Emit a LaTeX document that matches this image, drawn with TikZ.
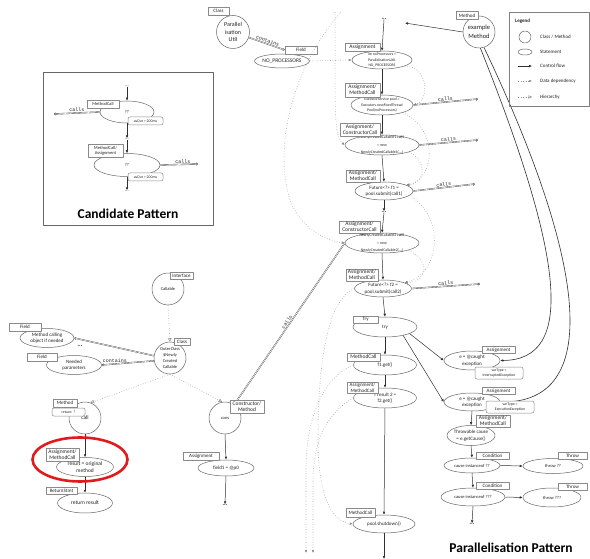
\documentclass[tikz,border=0pt]{standalone}
\usepackage{fontspec}
\setmainfont{Carlito}
\newfontfamily\lblfont{Liberation Mono}
\usetikzlibrary{arrows.meta,shapes.geometric}

\definecolor{boxc}{HTML}{8A8A8A}
\definecolor{elc}{HTML}{666666}
\definecolor{linec}{HTML}{303030}
\definecolor{relc}{HTML}{4A4A4A}
\definecolor{dotc}{HTML}{8F8F8F}
\definecolor{txtc}{HTML}{222222}
\definecolor{redc}{HTML}{E3191C}

% statement: an ellipse of fixed size with its text laid over it
\newcommand\stmtnode[6]{%
  \node[stm,minimum width=#3,minimum height=#4] (#1) at (#2) {};
  \node[stt,#5] (#1t) at (#1) {#6};}

\tikzset{
  f38/.style={font=\fontsize{3.8}{5.2}\selectfont},
  f4w/.style={font=\fontsize{3.9}{7.2}\selectfont},
  f45/.style={font=\fontsize{4.5}{5.8}\selectfont},
  f5/.style={font=\fontsize{5}{6.6}\selectfont},
  f55/.style={font=\fontsize{5.5}{6.6}\selectfont},
  tbox/.style={draw=boxc, line width=0.5pt, fill=white, inner sep=0.3pt, align=center,
    text=txtc, font=\fontsize{5.5}{6}\selectfont},
  sbox/.style={tbox, font=\fontsize{4.5}{5.2}\selectfont},
  cbox/.style={draw=boxc, line width=0.5pt, fill=white, rounded corners=2pt, inner sep=0.3pt,
    align=center, text=txtc, font=\fontsize{3.8}{4.6}\selectfont},
  stm/.style={ellipse, draw=elc, line width=0.5pt, inner sep=0pt},
  stt/.style={inner sep=0pt, align=center, text=txtc},
  ent/.style={circle, draw=elc, line width=0.5pt, inner sep=0pt, align=center, text=txtc},
  cf/.style={draw=linec, line width=0.5pt, -{Latex[length=3pt,width=2.6pt]}},
  cfb/.style={cf, line width=0.6pt},
  dd/.style={draw=dotc, dotted, line width=0.55pt, -{Latex[length=3pt,width=2.6pt,fill=linec]}},
  hier/.style={draw=dotc, dotted, line width=0.55pt, -{Triangle[open,length=3.5pt,width=3.6pt,fill=white]}},
  rel/.style={draw=relc, double=white, double distance=0.55pt, line width=0.38pt, -{Implies}},
  lbl/.style={font=\lblfont\fontsize{5}{5}\selectfont, text=txtc, inner sep=1pt},
  dots/.style={inner sep=0pt, text=txtc, font=\bfseries\fontsize{6}{6}\selectfont},
  frame/.style={draw=gray!80!black, line width=1pt},
  title/.style={text=black, font=\bfseries\fontsize{13.5}{15}\selectfont},
  legt/.style={anchor=west, inner sep=0pt, text=txtc, font=\fontsize{5}{5}\selectfont}
}

\begin{document}
\begin{tikzpicture}[x=1pt,y=-1pt,line join=round]
\fill[white] (0,0) rectangle (590,559);
\useasboundingbox (0,0) rectangle (590,559);

% ---------------- candidate pattern ----------------
\draw[frame] (43,73) rectangle (213,226);
\node[dots, font=\fontsize{5}{5}\selectfont] (cd1) at (127,86) {...};
\stmtnode{ce1}{127,112}{54}{22}{f45}{??}
\node[dots, font=\fontsize{5}{5}\selectfont] (cd2) at (127,139) {...};
\stmtnode{ce2}{127,165}{66}{23}{f45}{??}
\node[dots, font=\fontsize{5}{5}\selectfont] (cd3) at (127,191) {...};
\coordinate (cl1) at (54,114);
\coordinate (cl2) at (198,164);
\draw[cf] (cd1.south) -- (ce1.north);
\draw[cf] (ce1.south) -- (cd2.north);
\draw[cf] (cd2.south) -- (ce2.north);
\draw[cf] (ce2.south) -- (cd3.north);
\draw[rel] (ce1.west) -- node[lbl, above] {calls} (cl1);
\draw[rel] (ce2.east) -- node[lbl, above, pos=0.6] {calls} (cl2);
\node[sbox, minimum width=32, minimum height=8] (ct1) at (103,104) {MethodCall};
\node[cbox, minimum width=35, minimum height=8] (cv1) at (145.5,121) {avDur > 200ms};
\node[sbox, minimum width=35, minimum height=13] (ct2) at (105.5,150.5) {MethodCall/\\Assignment};
\node[cbox, minimum width=35, minimum height=8] (cv2) at (145.5,177) {avDur > 200ms};
\node[title] (cpt) at (128,214) {Candidate Pattern};

% ---------------- ParallelisationUtil ----------------
\node[ent, minimum size=33, font=\fontsize{6}{7.5}\selectfont] (pu) at (233,32) {Parallel\\isation\\Util};
\stmtnode{nop}{282,61}{55}{14}{f55}{NO\_PROCESSORS}
\node[tbox, font=\fontsize{5}{6}\selectfont, minimum width=32, minimum height=8] (puf) at (301,50) {Field};
\node[tbox, font=\fontsize{5}{6}\selectfont, minimum width=21, minimum height=8] (puc) at (218.5,11) {Class};
\draw[rel] (pu) -- node[lbl, above, sloped] {contains} (puf.west);

% ---------------- main method body ----------------
\node[ent, minimum size=32, font=\fontsize{6.5}{8.5}\selectfont] (em) at (479,32) {example\\Method};
\node[dots] (topdots) at (384,19) {...};
\coordinate (emto) at (405,23);
\stmtnode{a1}{382,60}{60}{18}{f38}{int noProcessors =\\ParallelisationUtil.\\NO\_PROCESSORS}
\stmtnode{a2}{382,105}{62}{20}{f38}{ExecutorService pool =\\Executors.newFixedThread\\Pool(noProcessors)}
\stmtnode{a3}{382,145}{74}{20}{f4w}{NewlyCreatedCallable1 call1\\= new\\NewlyCreatedCallable1(...)}
\stmtnode{a4}{384,191}{58}{18}{f5}{Future<?> f1 =\\pool.submit(call1)}
\node[dots] (middots) at (384,212) {...};
\stmtnode{a5}{382,243}{74}{20}{f4w}{NewlyCreatedCallable2 call2\\= new\\NewlyCreatedCallable2(...)}
\stmtnode{a6}{383,288.5}{57}{17}{f5}{Future<?> f2 =\\pool.submit(call2)}
\stmtnode{tr}{385,327}{64}{20}{f5}{try}
\stmtnode{g1}{385,365}{63}{20}{f5}{f1.get()}
\stmtnode{g2}{385,398}{63}{20}{f5}{T result 2 =\\f2.get()}
\stmtnode{sd}{384,524}{62}{18}{f5}{pool.shutdown()}
\coordinate (colend) at (384,559);

\draw[cf] (topdots.south) -- (a1.north);
\draw[cf] (a1.south) -- (a2.north);
\draw[cf] (a2.south) -- (a3.north);
\draw[cf] (a3.south) -- (a4.north);
\draw[cf] (a4.south) -- (middots.north);
\draw[cf] (middots.south) -- (a5.north);
\draw[cf] (a5.south) -- (a6.north);
\draw[cf] (a6.south) -- (tr.north);
\draw[cf] (tr.south) -- (g1.north);
\draw[cf] (g1.south) -- (g2.north);
\draw[cf] (g2.south) -- (sd.north);
\draw[cf] (sd.south) -- (colend);
\draw[cf] (em.west) -- (emto);

% calls going out of the body
\coordinate (ca2) at (478,99);
\coordinate (ca3) at (478,140);
\coordinate (ca4) at (475,184);
\coordinate (ca6) at (480,284);
\draw[rel] (a2.east) -- node[lbl, above, sloped] {calls} (ca2);
\draw[rel] (a3.east) -- node[lbl, above, sloped] {calls} (ca3);
\draw[rel] (a4.east) -- node[lbl, above, sloped] {calls} (ca4);
\draw[rel] (a6.east) -- node[lbl, above, sloped] {calls} (ca6);

% data dependencies of the body
\draw[dd] (nop.east) -- (a1.west);
\draw[dd] (a1.-15) .. controls (428,66) and (430,100) .. (a2.east);
\draw[dd] (a2.-20) .. controls (440,130) and (434,180) .. (a4.15);
\draw[dd] (a3.-15) .. controls (428,160) and (425,184) .. (a4.15);
\draw[dd] (a4.-10) .. controls (444,215) and (442,272) .. (a6.15);
\draw[dd] (a5.-15) .. controls (432,262) and (426,282) .. (a6.15);
\coordinate (din1) at (335,12);
\coordinate (din2) at (341,12);
\draw[dd] (din1) .. controls (336,90) and (332,135) .. (a3.west);
\draw[dd] (din2) .. controls (290,70) and (274,150) .. (290,200) .. controls (300,226) and (322,240) .. (a5.west);
\draw[dd] (a6.west) .. controls (328,300) and (318,360) .. (318,440) .. controls (318,492) and (330,521) .. (sd.west);
\coordinate (out1) at (306,553);
\coordinate (out2) at (313,553);
\draw[dd] (g1.west) .. controls (322,378) and (306,420) .. (306,470) -- (out1);
\draw[dd] (g2.west) .. controls (328,412) and (313,440) .. (313,482) -- (out2);

% statement kinds of the body
\node[tbox, font=\fontsize{5}{6}\selectfont, minimum width=22, minimum height=8] (emk) at (467,15.5) {Method};
\node[tbox, minimum width=35, minimum height=8] (a1k) at (362.5,47) {Assignment};
\node[tbox, minimum width=35, minimum height=14] (a2k) at (362.5,90) {Assignment/\\MethodCall};
\node[tbox, minimum width=40, minimum height=13] (a3k) at (360,129.5) {Assignment/\\ConstructorCall};
\node[tbox, minimum width=34, minimum height=12] (a4k) at (363,176) {Assignment/\\MethodCall};
\node[tbox, minimum width=41, minimum height=12] (a5k) at (359.5,227) {Assignment/\\ConstructorCall};
\node[tbox, minimum width=32, minimum height=12] (a6k) at (362,275) {Assignment/\\MethodCall};
\node[tbox, font=\fontsize{5}{6}\selectfont, minimum width=25, minimum height=7] (trk) at (365.5,319.5) {Try};
\node[tbox, minimum width=33, minimum height=8] (g1k) at (363.5,357) {MethodCall};
\node[tbox, font=\fontsize{5}{5.6}\selectfont, minimum width=31, minimum height=11] (g2k) at (362.5,387.5) {Assignment/\\MethodCall};
\node[tbox, font=\fontsize{5}{6}\selectfont, minimum width=29, minimum height=9] (sdk) at (360.5,512.5) {MethodCall};

% ---------------- exception handling ----------------
\stmtnode{ex1}{472,360.5}{56}{19}{f5}{e = @caught\\exception}
\stmtnode{ex2}{472,402}{56}{18}{f5}{e = @caught\\exception}
\stmtnode{gc}{471,435.5}{48}{20}{f5}{Throwable cause\\= e.getCause()}
\stmtnode{cd1}{472,465.5}{56}{15}{f45}{cause instanceof ??}
\stmtnode{th1}{553,466}{60}{15}{f45}{throw ??}
\stmtnode{cd2}{473,497}{64}{18}{f45}{cause instanceof ???}
\stmtnode{th2}{552,497.5}{58}{19}{f45}{throw ???}
\node[dots] (rdots) at (472,524) {...};

\draw[cf] (tr.-15) -- (ex1.west);
\draw[cf] (tr.-25) -- (ex2.west);
\draw[cfb] (em.-85) .. controls (565,260) and (575,360) .. (ex1.east);
\draw[cfb] (em.-72) .. controls (590,270) and (600,402) .. (ex2.east);
\draw[cf] (ex2.south) -- (gc.north);
\draw[cf] (gc.south) -- (cd1.north);
\draw[cf] (cd1.east) -- (th1.west);
\draw[cf] (cd1.south) -- (cd2.north);
\draw[cf] (cd2.east) -- (th2.west);
\draw[cf] (cd2.south) -- (rdots.north);

\node[tbox, font=\fontsize{5}{6}\selectfont, minimum width=33, minimum height=7] (ex1k) at (498.5,350) {Assignment};
\node[cbox, minimum width=48, minimum height=12] (vt1) at (499,373) {varType =\\InterruptedException};
\node[tbox, font=\fontsize{5}{6}\selectfont, minimum width=33, minimum height=7] (ex2k) at (498.5,391) {Assignment};
\node[cbox, minimum width=48, minimum height=12] (vt2) at (510,407) {varType =\\ExecutionException};
\node[tbox, minimum width=34, minimum height=12] (gck) at (493,421) {Assignment/\\MethodCall};
\node[tbox, font=\fontsize{5}{6}\selectfont, minimum width=33, minimum height=7] (cd1k) at (492.5,456) {Condition};
\node[tbox, font=\fontsize{5}{6}\selectfont, minimum width=29, minimum height=7] (th1k) at (572.5,455.5) {Throw};
\node[tbox, font=\fontsize{5}{6}\selectfont, minimum width=33, minimum height=7] (cd2k) at (492.5,486) {Condition};
\node[tbox, font=\fontsize{5}{6}\selectfont, minimum width=29, minimum height=7] (th2k) at (572.5,486.5) {Throw};

% ---------------- the generated callable ----------------
\node[ent, minimum size=32, font=\fontsize{4.5}{5}\selectfont] (clb) at (168,289) {Callable};
\node[ent, minimum size=32, font=\fontsize{4.5}{5.8}\selectfont] (oc) at (170,358) {OuterClass\\\$Newly\\Created\\Callable};
\stmtnode{mco}{47,338}{54}{19}{f5}{Method calling\\object if needed}
\node[dots] (fdots) at (80,346) {...};
\stmtnode{np}{74,365}{55}{19}{f5}{Needed\\parameters}
\node[ent, minimum size=32, font=\fontsize{5.5}{6}\selectfont] (call) at (85,418) {call};
\stmtnode{rom}{85,467}{57}{19}{f55}{result = original\\method}
\stmtnode{rr}{85,503}{55}{20}{f55}{return result}
\node[ent, minimum size=32, font=\fontsize{4.5}{5}\selectfont] (cons) at (225,418) {cons};
\stmtnode{fe}{226,468}{56}{16}{f5}{field1 = @p0}
\node[dots] (cdots) at (225,505) {...};

\draw[hier] (clb.south) -- (oc.north);
\draw[hier] (oc.south) -- (call.70);
\draw[hier] (oc.south) -- (cons.100);
\draw[rel] (oc.172) -- (mco.east);
\draw[rel] (oc.190) -- node[lbl, above, pos=0.75] {contains} (np.east);
\draw[cf] (call.south) -- (rom.north);
\draw[cf] (rom.south) -- (rr.north);
\draw[cf] (cons.south) -- (fe.north);
\draw[cf] (fe.south) -- (cdots.north);
\draw[rel] (a5.west) -- node[lbl, above, sloped] {calls} (cons);

\node[tbox, font=\fontsize{5}{6}\selectfont, minimum width=23, minimum height=7] (clbk) at (181.5,275.5) {Interface};
\node[tbox, font=\fontsize{5}{6}\selectfont, minimum width=16, minimum height=7] (ock) at (182,341.5) {Class};
\node[tbox, font=\fontsize{5}{6}\selectfont, minimum width=32, minimum height=8] (mcok) at (25,327) {Field};
\node[tbox, font=\fontsize{5}{6}\selectfont, minimum width=30, minimum height=8] (npk) at (42,357) {Field};
\node[tbox, font=\fontsize{5}{6}\selectfont, minimum width=24, minimum height=8] (callk) at (65,403) {Method};
\node[cbox, minimum width=33, minimum height=8] (callr) at (68.5,412) {return: ?};
\node[tbox, minimum width=33, minimum height=13] (romk) at (62.5,454.5) {Assignment/\\MethodCall};
\node[tbox, font=\fontsize{5}{6}\selectfont, minimum width=31, minimum height=7] (rrk) at (61.5,490.5) {ReturnStmt};
\node[tbox, minimum width=34, minimum height=13] (consk) at (247,406.5) {Constructor/\\Method};
\node[tbox, font=\fontsize{5}{6}\selectfont, minimum width=36, minimum height=8] (fek) at (201,456) {Assignment};

% highlighted statement
\node[ellipse, draw=redc, line width=2.6pt, minimum width=95, minimum height=44, inner sep=0pt] (hl) at (80,459.5) {};

\node[title] (ppt) at (511,548) {Parallelisation Pattern};

% ---------------- legend ----------------
\draw[draw=gray, line width=0.6pt] (509,12) rectangle (589,106);
\node[legt, font=\bfseries\fontsize{5}{5}\selectfont] (lg) at (515,21) {Legend};
\node[circle, draw=elc, line width=0.5pt, minimum size=12, inner sep=0pt] (lgc) at (525,37) {};
\node[legt] (lgct) at (540,37) {Class / Method};
\node[ellipse, draw=elc, line width=0.5pt, minimum width=14, minimum height=6, inner sep=0pt] (lge) at (525,52) {};
\node[legt] (lget) at (540,52) {Statement};
\coordinate (lcf1) at (518,66);
\coordinate (lcf2) at (532,66);
\coordinate (ldd1) at (518,81);
\coordinate (ldd2) at (532,81);
\coordinate (lhi1) at (518,97);
\coordinate (lhi2) at (532,97);
\draw[cf] (lcf1) -- (lcf2);
\draw[dd] (ldd1) -- (ldd2);
\draw[hier] (lhi1) -- (lhi2);
\node[legt] (lcft) at (540,66) {Control flow};
\node[legt] (lddt) at (540,81) {Data dependency};
\node[legt] (lhit) at (540,97) {Hierarchy};
\end{tikzpicture}
\end{document}
